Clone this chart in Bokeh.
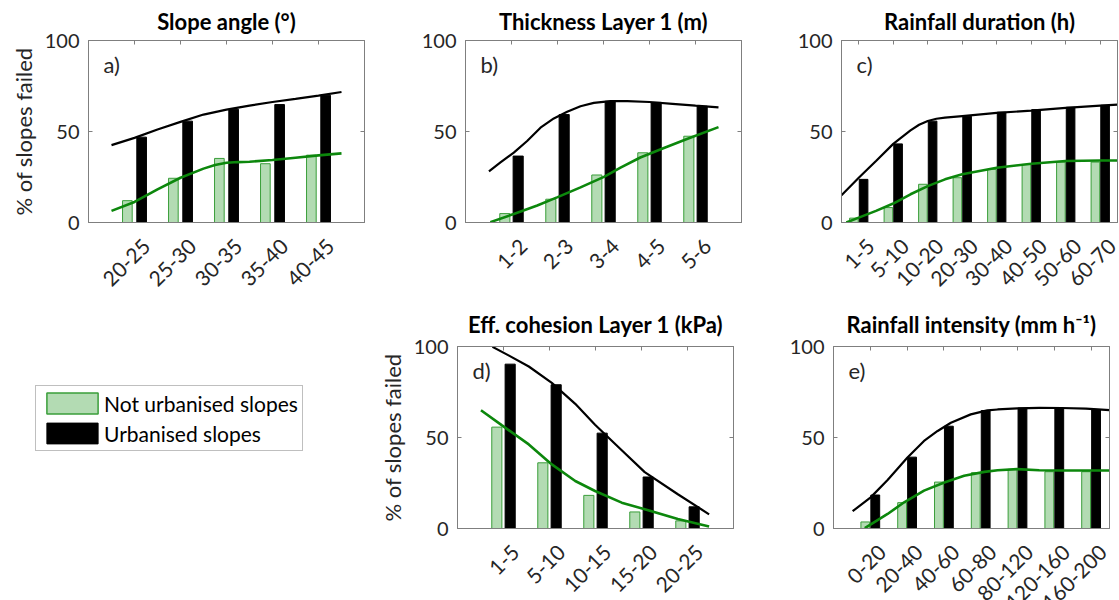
import math
import numpy as np
from bokeh.plotting import figure
from bokeh.models import Range1d, FixedTicker, LinearAxis, Label, Legend, LegendItem
from bokeh.layouts import row, column
from bokeh.embed import file_html
from bokeh.resources import INLINE

# ---------------- data ----------------
a_cats = ["20-25", "25-30", "30-35", "35-40", "40-45"]
a_green = [12.0, 24.3, 35.2, 32.3, 37.0]
a_black = [46.9, 55.7, 62.2, 64.8, 69.9]
a_black_curve_x = [0.5, 1, 1.5, 2, 2.5, 3, 3.5, 4, 4.5, 5, 5.5]
a_black_curve = [42.5, 46.5, 51.1, 55.3, 59.3, 62.0, 64.2, 66.2, 67.9, 69.7, 71.7]
a_green_curve_x = [0.5, 1, 1.5, 2, 2.5, 2.75, 3, 3.25, 3.5, 4, 4.5, 5, 5.5]
a_green_curve = [6.4, 11.3, 18.2, 24.6, 29.6, 31.6, 32.8, 33.2, 33.4, 34.3, 35.6, 36.9, 38.0]

b_cats = ["1-2", "2-3", "3-4", "4-5", "5-6"]
b_green = [4.9, 12.8, 26.1, 38.3, 47.4]
b_black = [36.5, 59.3, 66.6, 66.0, 63.9]
b_black_curve_x = [0.51, 0.76, 1.05, 1.34, 1.63, 1.92, 2.21, 2.5, 2.79, 3.15, 3.52, 4.0, 4.5, 5.0, 5.5]
b_black_curve = [28.1, 33.0, 38.4, 44.8, 52.1, 57.2, 60.8, 63.9, 65.7, 66.7, 66.7, 66.2, 65.2, 64.2, 63.3]
b_green_curve_x = [0.54, 1.05, 1.56, 1.99, 2.5, 3.01, 3.37, 3.8, 4.3, 4.8, 5.5]
b_green_curve = [0.2, 4.7, 9.3, 13.8, 19.3, 25.1, 30.2, 35.7, 40.8, 45.7, 52.4]

c_cats = ["1-5", "5-10", "10-20", "20-30", "30-40", "40-50", "50-60", "60-70"]
c_green = [2.4, 8.2, 21.0, 24.6, 29.2, 31.9, 33.2, 33.2]
c_black = [23.7, 43.2, 55.7, 58.4, 60.6, 62.0, 63.3, 64.4]
c_black_curve_x = [0.5, 1, 1.5, 2, 2.5, 2.75, 3, 3.25, 3.5, 4, 5, 6, 7, 8, 8.5]
c_black_curve = [15.0, 24.6, 33.8, 43.2, 50.6, 53.7, 55.8, 57.0, 57.6, 58.5, 60.2, 61.5, 63.0, 64.2, 64.8]
c_green_curve_x = [0.64, 1, 1.5, 2, 2.5, 3, 3.5, 4, 5, 6, 7, 8, 8.5]
c_green_curve = [0.0, 2.7, 6.4, 10.4, 15.5, 20.0, 23.7, 26.5, 30.1, 32.3, 33.8, 34.1, 34.1]

d_cats = ["1-5", "5-10", "10-15", "15-20", "20-25"]
d_green = [55.7, 36.1, 18.2, 9.1, 4.2]
d_black = [90.3, 79.0, 52.4, 28.3, 11.9]
d_black_curve_x = [0.76, 1.12, 1.55, 2.05, 2.56, 2.99, 3.57, 4.07, 4.79, 5.47]
d_black_curve = [99.8, 95.0, 89.0, 80.0, 68.5, 57.0, 43.0, 31.0, 18.8, 7.8]
d_green_curve_x = [0.51, 0.96, 1.55, 2.05, 2.56, 2.99, 3.57, 4.07, 4.79, 5.47]
d_green_curve = [65.0, 56.8, 46.2, 35.2, 26.1, 20.6, 14.2, 10.6, 5.2, 1.1]

e_cats = ["0-20", "20-40", "40-60", "60-80", "80-120", "120-160", "160-200"]
e_green = [3.6, 14.2, 25.5, 30.7, 32.5, 31.2, 31.2]
e_black = [18.4, 39.2, 56.2, 64.8, 66.2, 66.2, 65.3]
e_black_curve_x = [0.52, 1.01, 1.47, 2.01, 2.46, 2.83, 3.19, 3.73, 4.18, 4.46, 5.0, 5.59, 6.2, 6.86, 7.5]
e_black_curve = [9.5, 17.1, 26.6, 39.0, 48.1, 53.6, 58.1, 62.7, 64.9, 65.4, 66.0, 66.3, 66.2, 65.9, 65.0]
e_green_curve_x = [0.85, 1.47, 1.92, 2.46, 3.01, 3.55, 4.1, 4.46, 4.99, 5.59, 6.2, 6.86, 7.5]
e_green_curve = [0.2, 8.0, 14.4, 20.8, 25.3, 29.0, 31.1, 32.0, 32.6, 32.0, 31.9, 31.9, 31.9]

legend_labels = ["Not urbanised slopes", "Urbanised slopes"]
y_ticks = [0, 50, 100]

# ---------------- style ----------------
GRAY = "#7f7f7f"
TXT = "#262626"
G_FILL = "#b3dbb3"
G_EDGE = "#3a9e3a"
G_LINE = "#0c870c"
FONT = "Lato"
FW, FH = 276, 183


def style_axis(ax, ticks, tick_in=4):
    ax.ticker = FixedTicker(ticks=ticks)
    ax.axis_line_color = GRAY
    ax.major_tick_line_color = GRAY if tick_in else None
    ax.major_tick_in = tick_in
    ax.major_tick_out = 0
    ax.minor_tick_line_color = None
    ax.major_label_text_font = FONT
    ax.major_label_text_color = TXT
    ax.major_label_text_font_size = "20px"


def blank_labels(ax, ticks):
    ax.major_label_overrides = {t: "" for t in ticks}
    ax.major_label_standoff = 0


def panel(title, cats, green, black, bcx, bcy, gcx, gcy, x0, x1, tag,
          bw, off, ylab, bl, br, bt, bb, title_gap):
    n = len(cats)
    pos = [int(i) for i in np.arange(1, n + 1)]
    ppu = FW / (x1 - x0)
    p = figure(width=bl + FW + br, height=bt + FH + bb,
               x_range=Range1d(x0, x1), y_range=Range1d(0, 100),
               output_backend="svg", toolbar_location=None,
               min_border_left=bl, min_border_right=br,
               min_border_top=bt, min_border_bottom=bb)
    p.title.text = title
    p.title.align = "center"
    p.title.text_font = FONT
    p.title.text_font_size = "22px"
    p.title.text_font_style = "bold"
    p.title.text_color = "black"
    p.title.standoff = title_gap
    p.grid.visible = False
    p.outline_line_color = GRAY
    p.background_fill_color = "white"
    p.border_fill_color = "white"

    # bottom axis: rotated category labels anchored a little right of each centre
    shift = 12 / ppu
    lab_pos = [round(i + shift, 4) for i in pos]
    style_axis(p.xaxis[0], lab_pos, tick_in=0)
    p.xaxis[0].major_label_overrides = {lp: c for lp, c in zip(lab_pos, cats)}
    p.xaxis[0].major_label_orientation = math.pi / 4
    p.xaxis[0].major_label_standoff = 20
    p.xaxis[0].major_label_text_font_size = "21px"

    style_axis(p.yaxis[0], y_ticks)
    p.yaxis[0].major_label_standoff = 9
    if ylab:
        p.yaxis[0].axis_label = ylab
        p.yaxis[0].axis_label_text_font = FONT
        p.yaxis[0].axis_label_text_font_size = "22px"
        p.yaxis[0].axis_label_text_font_style = "normal"
        p.yaxis[0].axis_label_text_color = TXT
        p.yaxis[0].axis_label_standoff = 5

    top = LinearAxis()
    style_axis(top, pos)
    blank_labels(top, pos)
    p.add_layout(top, "above")
    right = LinearAxis()
    style_axis(right, y_ticks)
    blank_labels(right, y_ticks)
    p.add_layout(right, "right")

    p.vbar(x=[i - off for i in pos], top=green, width=bw, fill_color=G_FILL,
           line_color=G_EDGE, line_width=1)
    p.vbar(x=[i + off for i in pos], top=black, width=bw, fill_color="black",
           line_color="black", line_width=1)
    p.line(bcx, bcy, line_color="black", line_width=2.2)
    p.line(gcx, gcy, line_color=G_LINE, line_width=2.6)

    p.add_layout(Label(x=x0 + 15 / ppu, y=100 - 24 * 100 / FH, text=tag,
                       text_font=FONT, text_font_size="22px",
                       text_color=TXT, text_baseline="middle"))
    return p


YL = "% of slopes failed"
pa = panel("Slope angle (°)", a_cats, a_green, a_black, a_black_curve_x, a_black_curve,
           a_green_curve_x, a_green_curve, 0, 6, "a)", 0.21, 0.155, YL, 88, 10, 39, 78, 11)
pb = panel("Thickness Layer 1 (m)", b_cats, b_green, b_black, b_black_curve_x, b_black_curve,
           b_green_curve_x, b_green_curve, 0, 6, "b)", 0.22, 0.145, None, 91, 10, 39, 78, 11)
pc = panel("Rainfall duration (h)", c_cats, c_green, c_black, c_black_curve_x, c_black_curve,
           c_green_curve_x, c_green_curve, 0.5, 8.5, "c)", 0.25, 0.14, None, 90, 1, 39, 78, 11)
# bottom row: the long rotated labels run past the window's lower edge, as in the original
pd = panel("Eff. cohesion Layer 1 (kPa)", d_cats, d_green, d_black, d_black_curve_x, d_black_curve,
           d_green_curve_x, d_green_curve, 0, 6, "d)", 0.22, 0.145, YL, 91, 10, 45, 98, 17)
pe = panel("Rainfall intensity (mm h⁻¹)", e_cats, e_green, e_black, e_black_curve_x, e_black_curve,
           e_green_curve_x, e_green_curve, 0, 7.5, "e)", 0.24, 0.135, None, 90, 1, 45, 98, 17)

# legend figure: same vertical borders as its row neighbours
pl = figure(width=366, height=45 + FH + 98, x_range=Range1d(0, 1), y_range=Range1d(0, 1),
            output_backend="svg", toolbar_location=None,
            x_axis_location=None, y_axis_location=None,
            min_border_left=35, min_border_right=0, min_border_top=45, min_border_bottom=98)
pl.grid.visible = False
pl.outline_line_color = None
# zero-size proxies hidden under the legend box
r1 = pl.vbar(x=[0.1], bottom=[0.6], top=[0.6], width=0.001, fill_color=G_FILL,
             line_color=G_EDGE, line_width=1.5)
r2 = pl.vbar(x=[0.1], bottom=[0.6], top=[0.6], width=0.001, fill_color="black",
             line_color="black")
leg = Legend(items=[LegendItem(label=legend_labels[0], renderers=[r1]),
                    LegendItem(label=legend_labels[1], renderers=[r2])],
             location=(0, 77), margin=0, padding=4, spacing=4,
             glyph_width=64, glyph_height=26, label_height=26, label_standoff=0,
             label_text_font=FONT, label_text_font_size="21px", label_text_color="black",
             border_line_color=GRAY, border_line_width=1, background_fill_alpha=1)
pl.add_layout(leg)

layout = column(row(pa, pb, pc), row(pl, pd, pe))
open("out.html", "w").write(file_html(layout, INLINE))
